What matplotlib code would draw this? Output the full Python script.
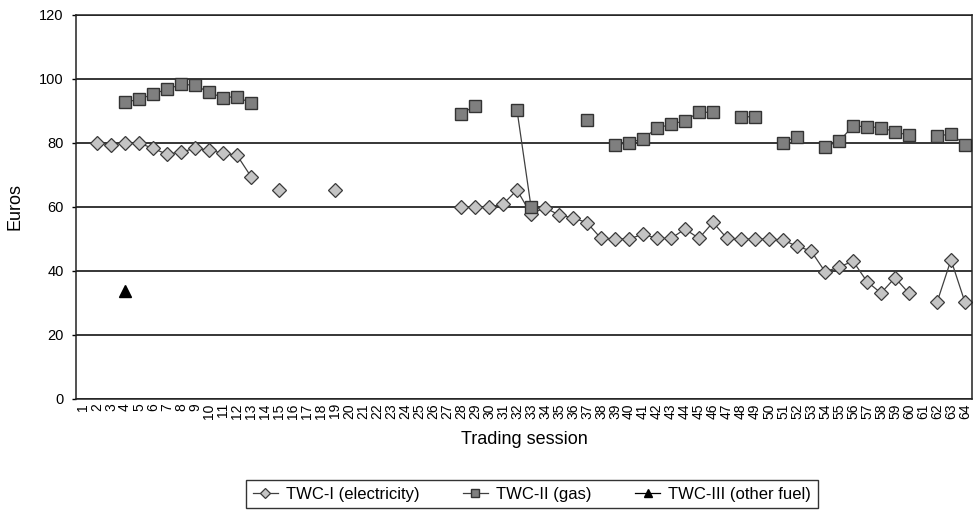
"""Prices per trading session for the three TWC types."""
import numpy as np
import matplotlib; matplotlib.use("Agg")
import matplotlib.pyplot as plt

nan = np.nan
sessions = list(range(1, 65))

# TWC-I (electricity), sessions 1..64
electricity = [
    nan, 80.0, 79.5, 80.0, 80.0, 78.3, 76.5, 77.2, 78.3, 77.8,
    76.8, 76.2, 69.5, nan, 65.2, nan, nan, nan, 65.2, nan,
    nan, nan, nan, nan, nan, nan, nan, 60.0, 60.0, 60.0,
    60.9, 65.3, 57.8, 59.8, 57.5, 56.6, 55.1, 50.2, 50.1, 50.0,
    51.5, 50.2, 50.2, 53.1, 50.2, 55.2, 50.2, 50.0, 50.0, 50.0,
    49.7, 47.7, 46.3, 39.8, 41.2, 43.1, 36.7, 33.1, 37.9, 33.0,
    nan, 30.2, 43.5, 30.2,
]
# TWC-II (gas)
gas = [
    nan, nan, nan, 92.8, 93.6, 95.3, 96.8, 98.3, 98.1, 95.8,
    94.2, 94.5, 92.4, nan, nan, nan, nan, nan, nan, nan,
    nan, nan, nan, nan, nan, nan, nan, 89.2, 91.5, nan,
    nan, 90.3, 60.1, nan, nan, nan, 87.3, nan, 79.4, 80.1,
    81.3, 84.7, 85.8, 87.0, 89.6, 89.6, nan, 88.2, 88.2, nan,
    80.1, 82.0, nan, 78.9, 80.5, 85.3, 85.1, 84.8, 83.5, 82.4,
    nan, 82.2, 82.8, 79.5,
]
# TWC-III (other fuel)
other = [nan] * 3 + [33.8] + [nan] * 60

plt.rcParams["font.family"] = ["Liberation Sans", "DejaVu Sans"]

fig = plt.figure(figsize=(9.76, 5.12), dpi=100)
ax = fig.add_axes([76/976, 1-399/512, 896/976, 384/512])

ax.plot(sessions, electricity, color="#404040", lw=0.9, marker="D", ms=7,
        mfc="#c4c4c4", mec="#3a3a3a", mew=0.9, label="TWC-I (electricity)")
ax.plot(sessions, gas, color="#404040", lw=0.9, marker="s", ms=9,
        mfc="#7f7f7f", mec="#333333", mew=1.0, label="TWC-II (gas)")
ax.plot(sessions, other, color="black", lw=0.9, marker="^", ms=9,
        mfc="black", mec="black", label="TWC-III (other fuel)")

ax.set_xlim(0.5, 64.5)
ax.set_ylim(0, 120)
ax.set_yticks(range(0, 121, 20))
ax.set_xticks(sessions)
ax.set_xticklabels([str(s) for s in sessions], rotation=90, fontsize=10)
ax.tick_params(axis="x", length=0, pad=3)
ax.tick_params(axis="y", length=3, width=1, pad=6, labelsize=10.5)
ax.grid(axis="y", color="black", lw=1.1)
ax.set_axisbelow(True)
for sp in ax.spines.values():
    sp.set_color("#222222"); sp.set_linewidth(1.1)

ax.set_xlabel("Trading session", fontsize=13, labelpad=9)
ax.set_ylabel("Euros", fontsize=13, labelpad=11)

leg = fig.legend(loc="center", bbox_to_anchor=(532/976, 1-494/512), ncol=3,
                 fontsize=12, frameon=True, fancybox=False, edgecolor="black",
                 markerscale=0.7, handlelength=1.5, columnspacing=2.6,
                 handletextpad=0.5, borderpad=0.4)
leg.get_frame().set_linewidth(1.0)

fig.savefig("out.png", dpi=100)
